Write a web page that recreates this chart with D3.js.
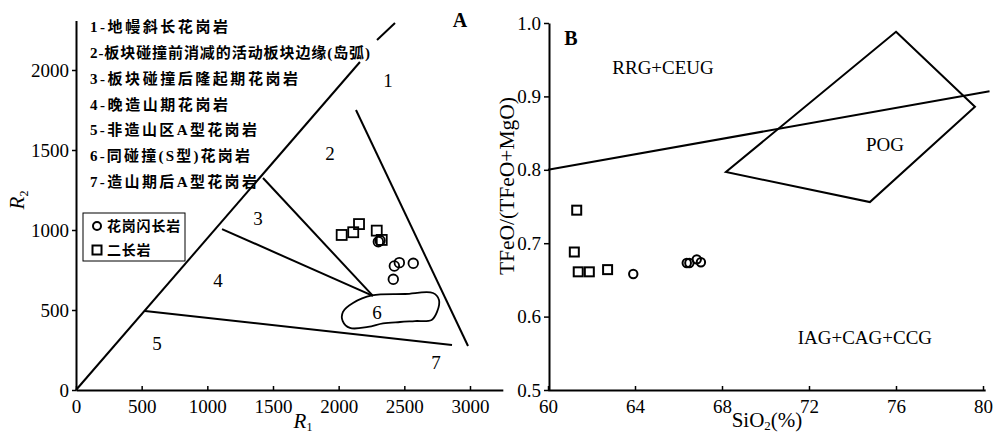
<!DOCTYPE html>
<html><head><meta charset="utf-8">
<script src="https://cdn.jsdelivr.net/npm/d3@7"></script>
<style>
body{margin:0;background:#fff;}
svg{display:block;}
text{fill:#000;}
</style></head>
<body>
<svg id="c" width="993" height="437"></svg>
<script>
// ---------- DATA: panel A (R1-R2) ----------
const r1Ticks = [0, 500, 1000, 1500, 2000, 2500, 3000];
const r2Ticks = [0, 500, 1000, 1500, 2000];
const schemeNotes = ["1-地幔斜长花岗岩", "2-板块碰撞前消减的活动板块边缘(岛弧)", "3-板块碰撞后隆起期花岗岩",
  "4-晚造山期花岗岩", "5-非造山区A型花岗岩", "6-同碰撞(S型)花岗岩", "7-造山期后A型花岗岩"];
const legendNames = ["花岗闪长岩", "二长岩"];
const granodioriteR1 = [2302, 2315, 2424, 2462, 2568, 2416];
const granodioriteR2 = [927, 934, 775, 796, 792, 692];
const monzoniteR1 = [2023, 2111, 2155, 2290, 2328];
const monzoniteR2 = [969, 986, 1037, 996, 938];
const r1r2Boundaries = [
  [[0, 0], [2162, 2050]],
  [[2292, 2188], [2429, 2294]],
  [[1424, 1325], [2261, 588]],
  [[1112, 1006], [2261, 588]],
  [[525, 494], [2863, 281]],
  [[2132, 1750], [2985, 275]]
];
const field6 = [[2254, 591], [2505, 600], [2718, 606], [2764, 563], [2749, 488], [2708, 438], [2581, 431],
  [2467, 425], [2338, 416], [2223, 394], [2086, 388], [2031, 431], [2033, 489], [2109, 544]];
const regionNames = ["1", "2", "3", "4", "5", "6", "7"];
const regionR1 = [2376, 1934, 1386, 1081, 617, 2292, 2741];
const regionR2 = [1938, 1481, 1075, 688, 294, 488, 175];

// ---------- DATA: panel B ----------
const sio2Ticks = [60, 64, 68, 72, 76, 80];
const feTicks = [0.5, 0.6, 0.7, 0.8, 0.9, 1.0];
const monzoniteSiO2 = [61.32, 61.21, 61.39, 61.90, 62.74];
const monzoniteFe = [0.745, 0.688, 0.661, 0.661, 0.664];
const granodioriteSiO2 = [63.92, 66.38, 66.50, 66.84, 67.03];
const granodioriteFe = [0.658, 0.673, 0.673, 0.678, 0.674];
const dividingLine = [[60, 0.80], [80.3, 0.907]];
const pogField = [[76.0, 0.988], [79.63, 0.886], [74.8, 0.756], [68.18, 0.797]];
const fieldNames = ["RRG+CEUG", "POG", "IAG+CAG+CCG"];
const fieldSiO2 = [65.29, 75.49, 74.57];
const fieldFe = [0.94, 0.834, 0.572];

// layout only: rendered widths of the scheme notes (px)
const noteWidths = [138, 280, 208, 138, 167, 160, 167];

// ---------- DRAW ----------
const svg = d3.select("#c");
const serif = "'Liberation Serif','Times New Roman',serif";
const cjk = "'Liberation Serif','Noto Sans CJK SC',serif";

function styleAxis(g) {
  g.select(".domain").attr("stroke", "#000").attr("stroke-width", 2);
  g.selectAll(".tick line").attr("stroke", "#000").attr("stroke-width", 1.5);
  g.selectAll(".tick text").attr("font-family", serif).attr("font-size", 19).attr("fill", "#000");
}

// Panel A scales
const xA = d3.scaleLinear().domain([0, 3250]).range([76, 76 + 3250 * 0.13133]);
const yA = d3.scaleLinear().domain([0, 2310]).range([390, 390 - 2310 * 0.16]);

const gA = svg.append("g");
gA.append("g").attr("transform", "translate(0,390)")
  .call(d3.axisBottom(xA).tickValues(r1Ticks).tickSize(-4).tickSizeOuter(0).tickPadding(10).tickFormat(d3.format("d")))
  .call(styleAxis);
gA.append("g").attr("transform", "translate(76,0)")
  .call(d3.axisLeft(yA).tickValues(r2Ticks).tickSize(4).tickSizeOuter(0).tickPadding(3).tickFormat(d3.format("d")))
  .call(styleAxis);

const lineA = d3.line().x(d => xA(d[0])).y(d => yA(d[1]));
gA.selectAll("path.bnd").data(r1r2Boundaries).enter().append("path")
  .attr("d", lineA).attr("fill", "none").attr("stroke", "#000").attr("stroke-width", 2);
gA.append("path").datum(field6)
  .attr("d", d3.line().x(d => xA(d[0])).y(d => yA(d[1])).curve(d3.curveCatmullRomClosed.alpha(0.5)))
  .attr("fill", "none").attr("stroke", "#000").attr("stroke-width", 1.8);

gA.selectAll("text.rg").data(regionNames).enter().append("text")
  .attr("x", (d, i) => xA(regionR1[i])).attr("y", (d, i) => yA(regionR2[i]))
  .attr("dy", "0.35em").attr("text-anchor", "middle")
  .attr("font-family", serif).attr("font-size", 19).text(d => d);

// scheme notes
gA.selectAll("text.note").data(schemeNotes).enter().append("text")
  .attr("x", 90).attr("y", (d, i) => 27 + i * 25.8).attr("dy", "0.35em")
  .attr("font-family", cjk).attr("font-size", 15).attr("font-weight", "bold")
  .attr("textLength", (d, i) => noteWidths[i]).attr("lengthAdjust", "spacing").text(d => d);

gA.append("text").attr("x", 460).attr("y", 20).attr("dy", "0.35em").attr("text-anchor", "middle")
  .attr("font-family", serif).attr("font-size", 20).attr("font-weight", "bold").text("A");

// axis titles
const r2t = gA.append("text").attr("transform", "translate(24,200) rotate(-90)").attr("text-anchor", "middle")
  .attr("font-family", serif).attr("font-size", 21).attr("font-style", "italic");
r2t.append("tspan").text("R");
r2t.append("tspan").attr("font-size", 12).attr("dy", 4).attr("font-style", "normal").text("2");
const r1t = gA.append("text").attr("x", 303).attr("y", 428).attr("text-anchor", "middle")
  .attr("font-family", serif).attr("font-size", 21).attr("font-style", "italic");
r1t.append("tspan").text("R");
r1t.append("tspan").attr("font-size", 12).attr("dy", 3).attr("font-style", "normal").text("1");

// legend box
gA.append("rect").attr("x", 83).attr("y", 213).attr("width", 102).attr("height", 48)
  .attr("fill", "#fff").attr("stroke", "#000").attr("stroke-width", 1);
const legG = gA.append("g");
legG.append("circle").attr("cx", 97).attr("cy", 226).attr("r", 4).attr("fill", "none").attr("stroke", "#000").attr("stroke-width", 2);
legG.append("rect").attr("x", 92.5).attr("y", 245.5).attr("width", 9).attr("height", 9).attr("fill", "none").attr("stroke", "#000").attr("stroke-width", 2);
legG.selectAll("text").data(legendNames).enter().append("text")
  .attr("x", 107).attr("y", (d, i) => 226 + i * 24).attr("dy", "0.35em")
  .attr("font-family", cjk).attr("font-size", 14).attr("font-weight", "bold").attr("letter-spacing", 0.8).text(d => d);

// points A
gA.selectAll("rect.mz").data(monzoniteR1).enter().append("rect")
  .attr("x", (d, i) => xA(d) - 5).attr("y", (d, i) => yA(monzoniteR2[i]) - 5)
  .attr("width", 10).attr("height", 10).attr("fill", "none").attr("stroke", "#000").attr("stroke-width", 1.8);
gA.selectAll("circle.gd").data(granodioriteR1).enter().append("circle")
  .attr("cx", d => xA(d)).attr("cy", (d, i) => yA(granodioriteR2[i])).attr("r", 4.8)
  .attr("fill", "none").attr("stroke", "#000").attr("stroke-width", 1.8);

// Panel B scales
const xB = d3.scaleLinear().domain([60, 80.1]).range([548, 548 + 20.1 * 21.75]);
const yB = d3.scaleLinear().domain([0.5, 1.0]).range([390, 23]);
const gB = svg.append("g");
gB.append("g").attr("transform", "translate(0,390)")
  .call(d3.axisBottom(xB).tickValues(sio2Ticks).tickSize(-4).tickSizeOuter(0).tickPadding(10).tickFormat(d3.format("d")))
  .call(styleAxis);
gB.append("g").attr("transform", "translate(549,0)")
  .call(d3.axisLeft(yB).tickValues(feTicks).tickSize(5).tickSizeOuter(0).tickPadding(3).tickFormat(d3.format(".1f")))
  .call(styleAxis);

const lineB = d3.line().x(d => xB(d[0])).y(d => yB(d[1]));
gB.append("path").datum(dividingLine).attr("d", lineB).attr("fill", "none").attr("stroke", "#000").attr("stroke-width", 2);
gB.append("path").datum(pogField).attr("d", d3.line().x(d => xB(d[0])).y(d => yB(d[1])).curve(d3.curveLinearClosed))
  .attr("fill", "none").attr("stroke", "#000").attr("stroke-width", 2);

gB.selectAll("text.fld").data(fieldNames).enter().append("text")
  .attr("x", (d, i) => xB(fieldSiO2[i])).attr("y", (d, i) => yB(fieldFe[i])).attr("dy", "0.35em")
  .attr("text-anchor", "middle").attr("font-family", serif).attr("font-size", 19).text(d => d);

gB.append("text").attr("x", 571).attr("y", 38).attr("dy", "0.35em").attr("text-anchor", "middle")
  .attr("font-family", serif).attr("font-size", 20).attr("font-weight", "bold").text("B");

gB.append("text").attr("transform", "translate(514,186) rotate(-90)").attr("text-anchor", "middle")
  .attr("font-family", serif).attr("font-size", 21).attr("textLength", 178).attr("lengthAdjust", "spacingAndGlyphs")
  .text("TFeO/(TFeO+MgO)");
const sxt = gB.append("text").attr("x", 767).attr("y", 427).attr("text-anchor", "middle")
  .attr("font-family", serif).attr("font-size", 21);
sxt.append("tspan").text("SiO");
sxt.append("tspan").attr("font-size", 13).attr("dy", 3).text("2");
sxt.append("tspan").attr("dy", -3).text("(%)");

gB.selectAll("rect.mz").data(monzoniteSiO2).enter().append("rect")
  .attr("x", d => xB(d) - 4.5).attr("y", (d, i) => yB(monzoniteFe[i]) - 4.5)
  .attr("width", 9).attr("height", 9).attr("fill", "none").attr("stroke", "#000").attr("stroke-width", 2);
gB.selectAll("circle.gd").data(granodioriteSiO2).enter().append("circle")
  .attr("cx", d => xB(d)).attr("cy", (d, i) => yB(granodioriteFe[i])).attr("r", 4.2)
  .attr("fill", "none").attr("stroke", "#000").attr("stroke-width", 2);
</script>
</body></html>
